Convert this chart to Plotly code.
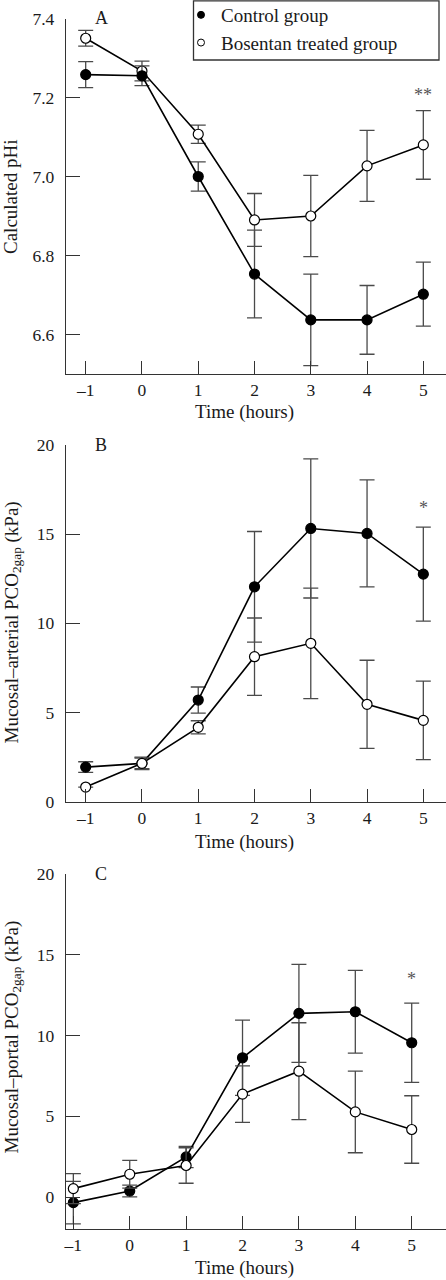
import plotly.graph_objects as go

hours = [-1, 0, 1, 2, 3, 4, 5]

# Panel A: calculated pHi
phi_control = [7.258, 7.255, 7.000, 6.753, 6.637, 6.637, 6.702]
phi_control_err = [0.033, 0.025, 0.037, 0.111, 0.116, 0.087, 0.081]
phi_bosentan = [7.350, 7.267, 7.107, 6.890, 6.900, 7.027, 7.080]
phi_bosentan_err = [0.020, 0.025, 0.023, 0.067, 0.103, 0.090, 0.087]

# Panel B: mucosal-arterial PCO2 gap (kPa)
art_control = [1.94, 2.15, 5.70, 12.05, 15.32, 15.04, 12.76]
art_control_err = [0.30, 0.35, 0.73, 3.10, 3.90, 3.00, 2.64]
art_bosentan = [0.82, 2.15, 4.17, 8.13, 8.88, 5.46, 4.56]
art_bosentan_err = [None, 0.30, 0.37, 2.17, 3.10, 2.47, 2.20]

# Panel C: mucosal-portal PCO2 gap (kPa)
por_control = [-0.35, 0.37, 2.48, 8.62, 11.37, 11.47, 9.55]
por_control_err = [1.32, 0.36, 0.66, 2.33, 3.04, 2.56, 2.45]
por_bosentan = [0.52, 1.41, 1.95, 6.37, 7.79, 5.27, 4.18]
por_bosentan_err = [0.93, 0.86, 1.10, 1.75, 3.00, 2.53, 2.09]

phi_ticks = [6.6, 6.8, 7.0, 7.2, 7.4]
gap_ticks = [0, 5, 10, 15, 20]
hour_labels = ["–1", "0", "1", "2", "3", "4", "5"]
group_names = ["Control group", "Bosentan treated group"]
panel_labels = ["A", "B", "C"]
sig_marks = ["**", "*", "*"]
x_title = "Time (hours)"
y_titles = ["Calculated pHi",
            "Mucosal–arterial PCO<sub>2gap</sub> (kPa)",
            "Mucosal–portal PCO<sub>2gap</sub> (kPa)"]

W, H = 446, 1280
FONT = "Liberation Serif, Times New Roman, serif"
AX = "#333333"
TXT = "#1a1a1a"
ERR = "#4a4a4a"

fig = go.Figure()


def add_series(xa, ya, y, err, filled):
    fig.add_trace(go.Scatter(
        x=hours, y=y, xaxis=xa, yaxis=ya, mode="lines+markers",
        showlegend=False, cliponaxis=False,
        line=dict(color="black", width=1.6),
        marker=dict(symbol="circle", size=10,
                    color="black" if filled else "white",
                    line=dict(color="black", width=1.2)),
        error_y=dict(type="data", array=err, visible=True,
                     color=ERR, thickness=1.3, width=7.5),
    ))


# Panel A (control drawn last)
add_series("x", "y", phi_bosentan, phi_bosentan_err, False)
add_series("x", "y", phi_control, phi_control_err, True)
# Panel B
add_series("x2", "y2", art_control, art_control_err, True)
add_series("x2", "y2", art_bosentan, art_bosentan_err, False)
# Panel C
add_series("x3", "y3", por_control, por_control_err, True)
add_series("x3", "y3", por_bosentan, por_bosentan_err, False)

# legend entries
for name, filled in [(group_names[0], True), (group_names[1], False)]:
    fig.add_trace(go.Scatter(
        x=[None], y=[None], mode="markers", name=name,
        marker=dict(symbol="circle", size=7,
                    color="black" if filled else "white",
                    line=dict(color="black", width=1)),
    ))

xdom = [66 / W, 1.0]


def ydom(top_px, bottom_px):
    return [1 - bottom_px / H, 1 - top_px / H]


common_x = dict(showline=True, linecolor=AX, linewidth=1.3, ticks="inside",
                ticklen=13, tickwidth=1.3, tickcolor=AX, showgrid=False,
                zeroline=False, tickvals=hours, ticktext=hour_labels,
                tickfont=dict(family=FONT, size=17.5, color=TXT), domain=xdom)
common_y = dict(showline=True, linecolor=AX, linewidth=1.3, ticks="inside",
                ticklen=14, tickwidth=1.3, tickcolor=AX, showgrid=False,
                zeroline=False, tickfont=dict(family=FONT, size=17.5, color=TXT),
                ticklabelstandoff=7)

fig.update_layout(
    width=W, height=H, margin=dict(l=0, r=0, t=0, b=0, autoexpand=False),
    paper_bgcolor="white", plot_bgcolor="white",
    font=dict(family=FONT, color=TXT),
    xaxis=dict(common_x, anchor="y", range=[-1.35, 5.403]),
    yaxis=dict(common_y, anchor="x", domain=ydom(18.5, 374), range=[6.5, 7.4],
               tickvals=phi_ticks, tickformat=".1f"),
    xaxis2=dict(common_x, anchor="y2", range=[-1.35, 5.403]),
    yaxis2=dict(common_y, anchor="x2", domain=ydom(445, 801.7), range=[0, 20],
                tickvals=gap_ticks),
    xaxis3=dict(common_x, anchor="y3", range=[-1.13, 5.608]),
    yaxis3=dict(common_y, anchor="x3", domain=ydom(874, 1229.3), range=[-2, 20],
                tickvals=gap_ticks),
    legend=dict(x=181 / W, xanchor="left", y=1 + 4 / H, yanchor="top",
                bgcolor="rgba(0,0,0,0)", borderwidth=0,
                font=dict(family=FONT, size=19, color=TXT)),
    showlegend=True,
)

# legend frame
fig.add_shape(type="rect", xref="paper", yref="paper",
              x0=193.5 / W, x1=439 / W, y0=1 - 60 / H, y1=1 - 0.8 / H,
              line=dict(color=AX, width=1.3), fillcolor="rgba(0,0,0,0)", layer="below")

# panel labels
for lab, (yr, yv) in zip(panel_labels, [("y", 7.4), ("y2", 20), ("y3", 20)]):
    fig.add_annotation(text=lab, xref="paper", yref=yr, x=101 / W, y=yv,
                       showarrow=False, xanchor="center", yanchor="middle",
                       font=dict(family=FONT, size=18, color=TXT))

# significance marks above last time point
sig_specs = [("x", "y", phi_bosentan[-1] + phi_bosentan_err[-1], 4),
             ("x2", "y2", art_control[-1] + art_control_err[-1], 7),
             ("x3", "y3", por_control[-1] + por_control_err[-1], 12)]
for mark, (xr, yr, ytop, shift) in zip(sig_marks, sig_specs):
    fig.add_annotation(text=mark, xref=xr, yref=yr, x=hours[-1], y=ytop,
                       yshift=shift, showarrow=False, xanchor="center", yanchor="bottom",
                       font=dict(family=FONT, size=18, color="#555555"))

# x-axis titles
for yc in [412, 842, 1268]:
    fig.add_annotation(text=x_title, xref="paper", yref="paper", x=244 / W,
                       y=1 - yc / H, showarrow=False, xanchor="center", yanchor="middle",
                       font=dict(family=FONT, size=19, color=TXT))

# y-axis titles
for txt, yc, xc in zip(y_titles, [197, 623, 1037], [10, 12.5, 12.5]):
    fig.add_annotation(text=txt, xref="paper", yref="paper", x=xc / W,
                       y=1 - yc / H, showarrow=False, xanchor="center", yanchor="middle",
                       textangle=-90, font=dict(family=FONT, size=19, color=TXT))

fig.write_html("out.html", config={"displayModeBar": False},
               post_script="document.body.style.margin='0';")
